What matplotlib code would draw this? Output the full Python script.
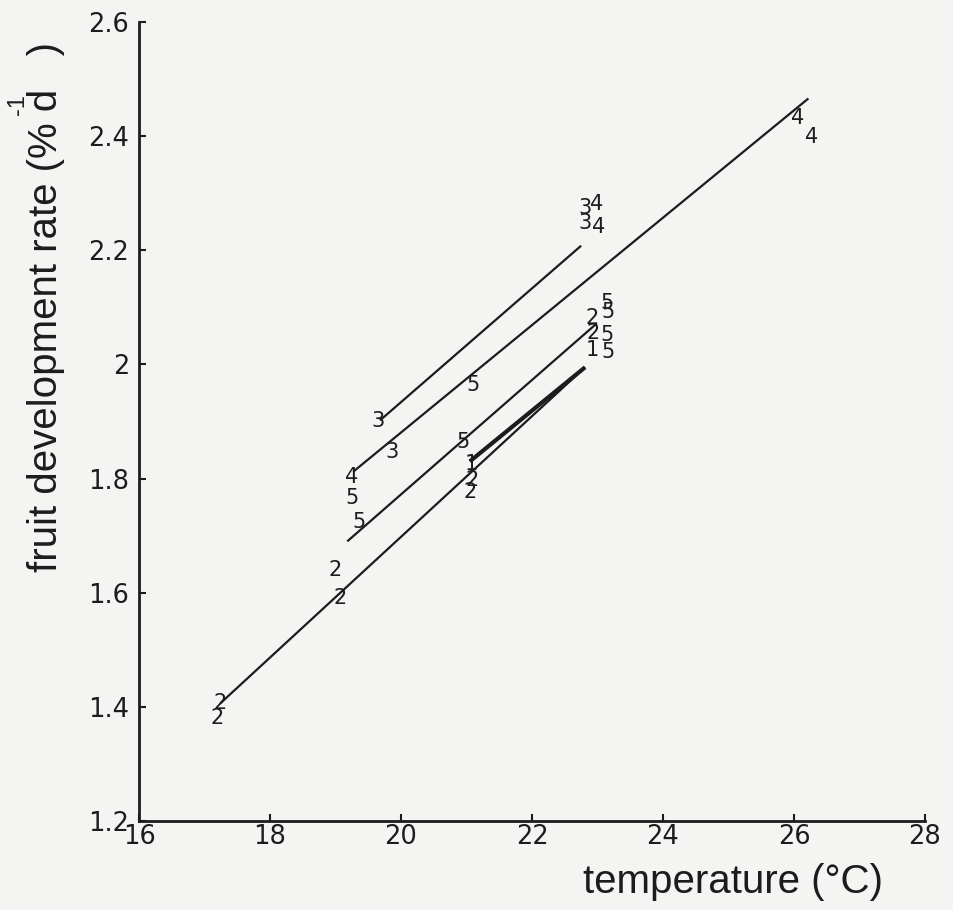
import matplotlib
matplotlib.use("Agg")
import matplotlib.pyplot as plt

# ---- data ----
point_cultivar = ["3", "4", "3", "4", "5", "5", "2", "2", "5", "1", "5",
                  "4", "4",
                  "3", "3", "5", "4", "5", "5", "5",
                  "1", "2", "2", "2", "2", "2", "2"]
point_temp = [22.81, 22.99, 22.81, 23.01, 23.15, 23.16, 22.92, 22.93, 23.15, 22.92, 23.16,
              26.05, 26.27,
              19.65, 19.86, 21.10, 19.25, 19.25, 19.36, 20.95,
              21.08, 21.08, 21.05, 18.99, 19.07, 17.24, 17.19]
point_rate = [2.274, 2.281, 2.247, 2.240, 2.107, 2.091, 2.081, 2.055, 2.051, 2.025, 2.021,
              2.431, 2.398,
              1.901, 1.846, 1.964, 1.802, 1.766, 1.724, 1.864,
              1.825, 1.797, 1.776, 1.640, 1.591, 1.407, 1.380]

# regression lines: (temp start, temp end), (rate start, rate end)
line_temp = [(19.68, 22.75), (19.27, 26.22), (19.18, 22.99), (17.24, 22.81), (21.05, 22.81)]
line_rate = [(1.902, 2.208), (1.812, 2.466), (1.690, 2.072), (1.406, 1.995), (1.830, 1.995)]
line_heavy = [False, False, False, False, True]

x_ticks = [16, 18, 20, 22, 24, 26, 28]
y_ticks = [1.2, 1.4, 1.6, 1.8, 2.0, 2.2, 2.4, 2.6]
y_tick_labels = ["1.2", "1.4", "1.6", "1.8", "2", "2.2", "2.4", "2.6"]

paper = "#f4f4f2"
ink = "#1c1c1c"

fig = plt.figure(figsize=(9.54, 9.10), dpi=100, facecolor=paper)
ax = fig.add_axes([139 / 954, 1 - 821 / 910, (925 - 139) / 954, (821 - 22) / 910])
ax.set_facecolor(paper)

for (t0, t1), (r0, r1), heavy in zip(line_temp, line_rate, line_heavy):
    ax.plot([t0, t1], [r0, r1], color=ink, lw=3.0 if heavy else 1.6,
            solid_capstyle="butt")

for lab, t, r in zip(point_cultivar, point_temp, point_rate):
    ax.text(t, r, lab, ha="center", va="center", fontsize=15,
            family="DejaVu Sans", color=ink)

ax.set_xlim(16, 28)
ax.set_ylim(1.2, 2.6)
ax.set_xticks(x_ticks)
ax.set_xticklabels([str(v) for v in x_ticks])
ax.set_yticks(y_ticks)
ax.set_yticklabels(y_tick_labels)

for s in ["top", "right"]:
    ax.spines[s].set_visible(False)
for s in ["left", "bottom"]:
    ax.spines[s].set_linewidth(2.0)
    ax.spines[s].set_color(ink)

ax.tick_params(direction="in", length=5, width=1.5, colors=ink, labelsize=18.5)
ax.tick_params(axis="x", pad=2)
ax.tick_params(axis="y", pad=7)
for lbl in ax.get_xticklabels() + ax.get_yticklabels():
    lbl.set_family("DejaVu Sans")
    lbl.set_color(ink)

fig.text(733 / 954, 1 - 882 / 910, "temperature (°C)", ha="center", va="center",
         fontsize=29, family="Liberation Sans", color=ink)
fig.text(46 / 954, 1 - 307 / 910, "fruit development rate (% d   )",
         ha="center", va="center", rotation=90, fontsize=29,
         family="Liberation Sans", color=ink)
fig.text(18 / 954, 1 - 105 / 910, "-1", ha="center", va="center", rotation=90,
         fontsize=17, family="Liberation Sans", color=ink)

fig.savefig("out.png", dpi=100, facecolor=paper)
